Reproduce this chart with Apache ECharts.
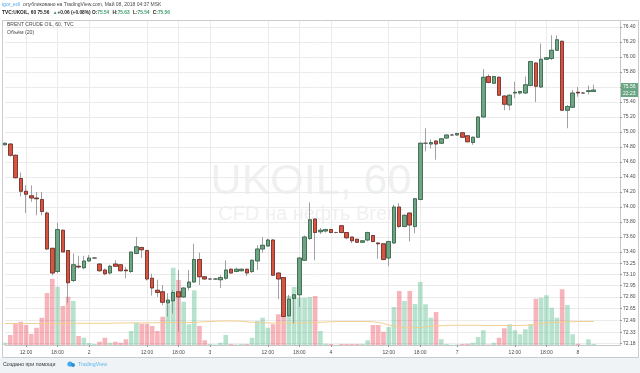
<!DOCTYPE html>
<html><head><meta charset="utf-8">
<script src="https://cdn.jsdelivr.net/npm/echarts@6/dist/echarts.min.js"></script>
<style>html,body{margin:0;padding:0;background:#fff}#c{width:640px;height:373px}</style>
</head><body><div id="c"></div><script>
// hourly bars, MSK (day hour)
const categories = [
 '1 08:00','1 09:00','1 10:00','1 11:00','1 12:00','1 13:00','1 14:00','1 15:00','1 16:00','1 17:00','1 18:00','1 19:00','1 20:00','1 21:00','1 22:00','1 23:00',
 '2 00:00','2 02:00','2 03:00','2 04:00','2 05:00','2 06:00','2 07:00','2 08:00','2 09:00','2 10:00','2 11:00','2 12:00','2 13:00','2 14:00','2 15:00','2 16:00','2 17:00','2 18:00','2 19:00','2 20:00','2 21:00','2 22:00','2 23:00',
 '3 00:00','3 02:00','3 03:00','3 04:00','3 05:00','3 06:00','3 07:00','3 08:00','3 09:00','3 10:00','3 11:00','3 12:00','3 13:00','3 14:00','3 15:00','3 16:00','3 17:00','3 18:00','3 19:00','3 20:00','3 21:00','3 22:00','3 23:00',
 '4 00:00','4 02:00','4 03:00','4 04:00','4 05:00','4 06:00','4 07:00','4 08:00','4 09:00','4 10:00','4 11:00','4 12:00','4 13:00','4 14:00','4 15:00','4 16:00','4 17:00','4 18:00','4 19:00','4 20:00','4 21:00','4 22:00','4 23:00',
 '6 23:00',
 '7 00:00','7 02:00','7 03:00','7 04:00','7 05:00','7 06:00','7 07:00','7 08:00','7 09:00','7 10:00','7 11:00','7 12:00','7 13:00','7 14:00','7 15:00','7 16:00','7 17:00','7 18:00','7 19:00','7 20:00','7 21:00','7 22:00','7 23:00',
 '8 00:00','8 02:00','8 03:00','8 04:00',
 '','','','',''
];
const openP = [74.83,74.84,74.69,74.38,74.21,74.15,74.12,74.10,73.92,73.45,73.14,73.69,73.42,73.02,73.21,73.19,73.28,73.32,73.24,73.16,73.12,73.24,73.23,73.16,73.14,73.38,73.46,73.42,73.05,72.89,72.87,72.72,72.75,72.87,72.80,72.93,73.00,73.30,73.07,73.04,73.04,73.03,73.05,73.17,73.14,73.15,73.17,73.14,73.28,73.44,73.48,73.56,73.12,73.06,72.55,72.78,72.83,73.29,73.58,73.84,73.67,73.68,73.70,73.66,73.75,73.66,73.60,73.57,73.53,73.56,73.62,73.52,73.51,73.32,73.52,74.00,73.74,73.92,73.74,74.10,74.85,74.84,74.88,74.85,74.92,74.96,74.96,74.99,74.95,74.86,74.93,75.20,75.74,75.65,75.73,75.48,75.36,75.52,75.52,75.52,75.62,75.92,75.60,75.97,75.98,76.09,76.21,75.29,75.33,75.53,75.52,75.54,75.54];
const highP = [74.86,74.85,74.70,74.46,74.29,74.29,74.20,74.20,73.94,73.45,73.79,73.70,73.42,73.38,73.35,73.35,73.36,73.33,73.25,73.18,73.23,73.29,73.24,73.20,73.40,73.60,73.47,73.43,73.11,73.03,72.96,72.85,72.89,73.16,72.93,73.16,73.51,73.39,73.08,73.05,73.05,73.09,73.29,73.18,73.19,73.18,73.18,73.30,73.49,73.60,73.58,73.57,73.13,73.06,72.83,72.84,73.33,73.62,74.06,73.85,73.72,73.71,73.71,73.67,73.76,73.66,73.60,73.57,73.56,73.67,73.63,73.53,73.51,73.55,74.03,74.05,73.90,73.93,74.12,74.86,75.05,74.90,74.89,74.92,74.97,74.97,74.99,75.00,74.96,74.94,75.21,75.84,75.77,75.75,75.74,75.49,75.50,75.67,75.55,75.74,75.95,75.93,76.18,76.00,76.29,76.29,76.22,75.36,75.56,75.60,75.53,75.62,75.63];
const lowP = [74.82,74.67,74.38,74.14,73.92,74.07,73.89,73.89,73.43,73.09,73.12,73.40,72.72,73.00,73.18,73.17,73.27,73.31,73.14,73.09,73.10,73.20,73.14,73.05,73.12,73.37,73.32,73.02,72.82,72.80,72.69,72.54,72.58,72.34,72.79,72.89,72.99,72.96,73.03,73.03,73.03,72.92,73.03,73.11,73.13,73.14,73.08,73.12,73.16,73.39,73.47,73.08,72.77,72.53,72.54,72.45,72.67,73.28,73.56,73.29,73.64,73.66,73.65,73.65,73.65,73.57,73.52,73.52,73.52,73.54,73.53,73.31,73.29,73.21,73.51,73.72,73.73,73.54,73.65,74.09,74.74,74.78,74.63,74.84,74.91,74.95,74.95,74.92,74.86,74.83,74.92,75.19,75.65,75.64,75.48,75.29,75.29,75.45,75.50,75.51,75.61,75.40,75.59,75.96,75.96,76.08,75.28,75.05,75.32,75.47,75.51,75.50,75.54];
const closeP = [74.85,74.69,74.39,74.21,74.17,74.12,74.11,73.94,73.44,73.12,73.70,73.40,72.99,73.23,73.20,73.28,73.32,73.32,73.15,73.11,73.21,73.21,73.15,73.15,73.40,73.47,73.43,73.04,72.92,72.86,72.73,72.76,72.86,72.80,72.92,73.00,73.30,73.07,73.04,73.04,73.04,73.06,73.16,73.12,73.17,73.17,73.12,73.29,73.44,73.49,73.56,73.09,73.04,72.54,72.77,72.83,73.32,73.60,73.83,73.66,73.69,73.70,73.66,73.66,73.66,73.59,73.55,73.53,73.55,73.66,73.54,73.51,73.30,73.54,74.00,73.74,73.89,73.76,74.11,74.85,74.85,74.86,74.84,74.91,74.96,74.96,74.98,74.93,74.87,74.93,75.20,75.73,75.66,75.74,75.49,75.37,75.49,75.53,75.54,75.63,75.94,75.61,75.97,75.99,76.09,76.23,75.29,75.34,75.52,75.52,75.52,75.55,75.56];
const volume = [90,400,880,930,800,440,690,1090,2080,2650,2330,1560,1930,1760,360,290,80,40,130,290,90,130,90,230,560,890,850,850,760,560,1130,1630,3090,2600,1730,830,2190,760,190,40,20,90,400,40,20,40,40,290,960,1090,690,830,1230,1230,1960,2320,1890,1890,1920,1960,560,50,40,10,40,40,40,40,40,190,800,800,530,720,1520,2160,1760,2160,1640,2520,1630,1090,1320,230,40,10,20,40,50,90,320,590,20,90,290,670,830,590,430,630,830,1850,1890,1990,1490,1090,2230,1600,430,50,10,230,40];
const volumeMA = [860,860,860,860,860,860,860,860,860,860,860,865,865,865,870,870,870,870,870,870,870,880,880,880,885,885,885,890,890,890,895,895,900,900,900,900,900,920,930,940,950,960,960,960,955,950,930,910,900,890,885,880,880,880,880,880,880,885,890,900,910,920,930,935,940,940,940,940,940,935,930,900,860,800,750,720,700,690,690,700,720,740,760,770,780,790,790,790,790,790,790,785,780,780,780,780,780,780,785,790,800,830,860,880,900,910,920,930,935,940,940,940,940];
const priceTickLabels = [76.40,76.20,76.00,75.80,75.40,75.20,75.00,74.80,74.60,74.40,74.20,74.00,73.80,73.60,73.40,73.25,73.10,72.95,72.80,72.65,72.49,72.33,72.18];
const priceGridValues = [76.40,76.20,76.00,75.80,75.60,75.40,75.20,75.00,74.80,74.60,74.40,74.20,74.00,73.80,73.60,73.40,73.25,73.10,72.95,72.80,72.65,72.49,72.33,72.18];
const lastPrice = 75.56;
const countdown = '22:23';

// full candles (gray wicks) and body-only overlay (coloured borders)
const ohlc = openP.map((o, i) => [o, closeP[i], lowP[i], highP[i]]);
const bodies = openP.map((o, i) => [o, closeP[i], Math.min(o, closeP[i]), Math.max(o, closeP[i])]);
const UP = 'rgba(83,185,135,0.42)', DOWN = 'rgba(235,77,92,0.42)';
const volData = volume.map((v, i) => ({ value: v, itemStyle: { color: closeP[i] < openP[i] ? DOWN : UP } }));

function xLabel(val) {
  if (!val) return '';
  const [d, t] = val.split(' ');
  if (t === '00:00') return d;
  if (t === '12:00' || t === '18:00') return t;
  return '';
}
const showAt = (i, val) => xLabel(val) !== '';

const FONT = 'Liberation Sans, Arial, sans-serif';
const chart = echarts.init(document.getElementById('c'), null, { renderer: 'canvas' });
chart.setOption({
  animation: false,
  backgroundColor: '#ffffff',
  textStyle: { fontFamily: FONT },
  grid: { left: 5, right: 20, top: 21, bottom: 28, containLabel: false },
  xAxis: {
    type: 'category', data: categories, boundaryGap: false,
    axisLine: { lineStyle: { color: '#c5c7c9', width: 1 } },
    axisTick: { show: true, length: 2, interval: showAt, lineStyle: { color: '#9a9a9a' } },
    axisLabel: { interval: 0, formatter: xLabel, fontSize: 5, color: '#4a4a4a', margin: 5, fontFamily: FONT },
    splitLine: { show: true, interval: showAt, lineStyle: { color: '#ebebeb', width: 1 } }
  },
  yAxis: [
    { type: 'value', position: 'right', min: 72.16, max: 76.48, scale: true,
      axisLine: { show: true, lineStyle: { color: '#c5c7c9' } },
      axisTick: { show: true, length: 2, customValues: priceGridValues, lineStyle: { color: '#9a9a9a' } },
      axisLabel: { customValues: priceTickLabels, formatter: v => v.toFixed(2), fontSize: 5, color: '#4a4a4a', margin: 3, fontFamily: FONT },
      splitLine: { show: true, lineStyle: { color: '#ebebeb', width: 1 } } },
    { type: 'value', min: 0, max: 12960, show: false, splitLine: { show: false } }
  ],
  graphic: [
    { type: 'rect', z: -10, silent: true, shape: { x: 0, y: 357, width: 640, height: 16 }, style: { fill: '#f0f3f6' } },
    { type: 'rect', z: 100, silent: true, shape: { x: 2.5, y: 20.5, width: 636, height: 337 }, style: { fill: 'none', stroke: '#c9cbcd', lineWidth: 1 } },
    { type: 'text', z: -5, silent: true,
      style: { text: 'UKOIL, 60', x: 311, y: 182, align: 'center', verticalAlign: 'middle', font: '43px ' + FONT, fill: '#eff0f2' } },
    { type: 'text', z: -5, silent: true,
      style: { text: 'CFD на нефть Brent', x: 311, y: 214, align: 'center', verticalAlign: 'middle', font: '20px ' + FONT, fill: '#eff0f2' } },
    { type: 'text', z: 50, silent: true,
      style: { x: 2, y: 5, verticalAlign: 'middle', text: '{a|igor_edi} {b|опубликовано на TradingView.com, Май 08, 2018 04:37 MSK}',
        rich: { a: { fill: '#4ea5e6', font: '5px ' + FONT }, b: { fill: '#4a4a4a', font: '5px ' + FONT } } } },
    { type: 'text', z: 50, silent: true,
      style: { x: 2, y: 13, verticalAlign: 'middle',
        text: '{k|TVC:UKOIL, 60 75.56} {g|▲}{k|+0.06 (+0.08%) O:}{g|75.54} {k|H:}{g|75.63} {k|L:}{g|75.54} {k|C:}{g|75.56}',
        rich: { k: { fill: '#222', font: 'bold 4.8px ' + FONT }, g: { fill: '#3e9b6c', font: 'bold 4.8px ' + FONT } } } },
    { type: 'text', z: 50, silent: true,
      style: { x: 7, y: 25, verticalAlign: 'middle', text: 'BRENT CRUDE OIL, 60, TVC', font: '5px ' + FONT, fill: '#4a4a4a' } },
    { type: 'text', z: 50, silent: true,
      style: { x: 7, y: 33, verticalAlign: 'middle', text: 'Объём (20)', font: '5.2px ' + FONT, fill: '#4a4a4a' } },
    { type: 'text', z: 50, silent: true,
      style: { x: 3, y: 365, verticalAlign: 'middle', text: 'Создано при помощи', font: '5.3px ' + FONT, fill: '#333' } },
    { type: 'circle', z: 50, silent: true, shape: { cx: 70, cy: 364, r: 2.6 }, style: { fill: '#3fa9f5' } },
    { type: 'circle', z: 50, silent: true, shape: { cx: 73, cy: 365, r: 2 }, style: { fill: '#2a8fd8' } },
    { type: 'text', z: 50, silent: true,
      style: { x: 78, y: 365, verticalAlign: 'middle', text: 'TradingView', font: '5.3px ' + FONT, fill: '#5cb8ee' } }
  ],
  series: [
    { name: 'Объём', type: 'bar', xAxisIndex: 0, yAxisIndex: 1, data: volData, barCategoryGap: '12%', z: 1, clip: false, silent: true },
    { name: 'Объём MA', type: 'line', xAxisIndex: 0, yAxisIndex: 1, data: volumeMA, showSymbol: false, symbol: 'none', z: 1,
      lineStyle: { color: '#f3cf8f', width: 1 }, silent: true },
    { name: 'UKOIL wicks', type: 'candlestick', xAxisIndex: 0, yAxisIndex: 0, data: ohlc, barWidth: 4, z: 3, clip: false, silent: true,
      itemStyle: { color: '#6ba583', color0: '#d75442', borderColor: '#8a8a8c', borderColor0: '#8a8a8c', borderColorDoji: '#8a8a8c', borderWidth: 0.8 } },
    { name: 'UKOIL', type: 'candlestick', xAxisIndex: 0, yAxisIndex: 0, data: bodies, barWidth: 4, z: 4, clip: false, silent: true,
      itemStyle: { color: '#6ba583', color0: '#d75442', borderColor: '#225437', borderColor0: '#5b1a13', borderColorDoji: '#555', borderWidth: 0.6 },
      markLine: { silent: true, symbol: 'none', data: [{ yAxis: lastPrice }], lineStyle: { color: 'rgba(0,0,0,0)', width: 0 },
        label: { show: true, position: 'end', distance: 1, formatter: '{a|' + lastPrice.toFixed(2) + '}\n{b|' + countdown + '}',
          rich: { a: { backgroundColor: '#6ba583', color: '#fff', fontSize: 5, padding: [1, 2, 1, 2], fontFamily: FONT, width: 13, lineHeight: 7 },
                  b: { backgroundColor: '#6ba583', color: '#fff', fontSize: 5, padding: [1, 2, 1, 2], fontFamily: FONT, width: 13, lineHeight: 7 } } } } }
  ]
});
</script></body></html>
